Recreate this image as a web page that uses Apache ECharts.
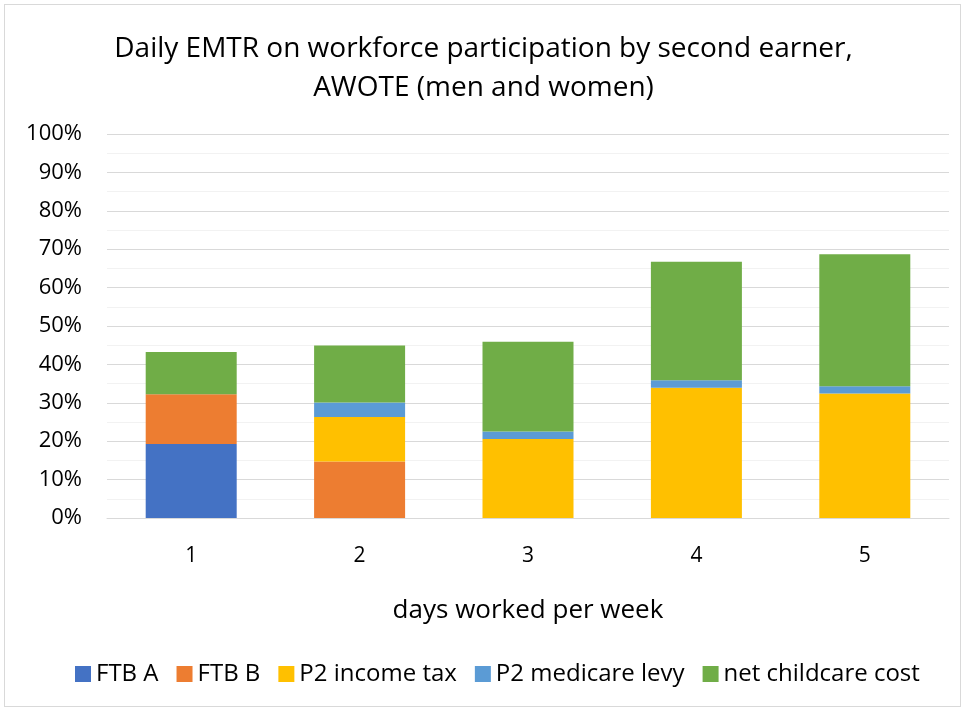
<!DOCTYPE html>
<html>
<head>
<meta charset="utf-8">
<script src="https://cdn.jsdelivr.net/npm/echarts@6/dist/echarts.min.js"></script>
<style>
html, body { margin: 0; padding: 0; background: #fff; }
#frame { position: absolute; left: 4px; top: 4px; width: 957px; height: 703px; border: 1px solid #d9d9d9; box-sizing: border-box; }
#emtr { position: absolute; left: 0; top: 0; width: 967px; height: 710px; }
</style>
</head>
<body>
<div id="frame"></div>
<div id="emtr"></div>
<script>
// Data (segment heights, %)
var days = ['1', '2', '3', '4', '5'];
var ftbA = [19.3, 0, 0, 0, 0];
var ftbB = [12.9, 14.7, 0, 0, 0];
var incomeTax = [0, 11.6, 20.6, 33.9, 32.4];
var medicareLevy = [0, 3.8, 1.9, 2.0, 1.9];
var childcareCost = [11.0, 14.8, 23.4, 30.8, 34.4];
var yTicks = [0, 10, 20, 30, 40, 50, 60, 70, 80, 90, 100];

var font = '"Open Sans", "Noto Sans", Arial, sans-serif';

// Build one stacked bar series
var makeSeries = function(name, values, colour) {
    return {
        name: name,
        type: 'bar',
        stack: 'emtr',
        barWidth: 91,
        itemStyle: { color: colour },
        data: values
    };
};

var chart = echarts.init(document.getElementById('emtr'));

chart.setOption({
    animation: false,
    textStyle: { fontFamily: font, color: '#000' },

    // Title
    title: {
        text: 'Daily EMTR on workforce participation by second earner,\nAWOTE (men and women)',
        left: 'center',
        top: 25,
        textStyle: {
            fontFamily: font,
            fontSize: 28,
            fontWeight: 'normal',
            lineHeight: 39,
            color: '#000'
        }
    },

    // Legend
    legend: {
        bottom: 19,
        left: 70,
        itemWidth: 16,
        itemHeight: 16,
        itemGap: 18,
        icon: 'rect',
        textStyle: { fontFamily: font, fontSize: 24, color: '#000' }
    },

    grid: {
        left: 107,
        right: 18,
        top: 134,
        bottom: 192
    },

    xAxis: {
        type: 'category',
        data: days,
        name: 'days worked per week',
        nameLocation: 'middle',
        nameGap: 80,
        nameTextStyle: { fontFamily: font, fontSize: 26, color: '#000' },
        axisTick: { show: false },
        axisLine: { lineStyle: { color: '#d9d9d9', width: 1 } },
        axisLabel: { fontFamily: font, fontSize: 21, color: '#000', margin: 28 }
    },

    yAxis: {
        type: 'value',
        min: yTicks[0],
        max: yTicks[yTicks.length - 1],
        interval: 10,
        axisLine: { show: false },
        axisTick: { show: false },
        axisLabel: {
            fontFamily: font,
            fontSize: 22,
            color: '#000',
            margin: 25,
            formatter: '{value}%'
        },
        splitLine: { lineStyle: { color: '#d9d9d9', width: 1 } },
        minorTick: { show: false, splitNumber: 2 },
        minorSplitLine: { show: true, lineStyle: { color: '#f2f2f2', width: 1 } }
    },

    series: [
        makeSeries('FTB A', ftbA, '#4472c4'),
        makeSeries('FTB B', ftbB, '#ed7d31'),
        makeSeries('P2 income tax', incomeTax, '#ffc000'),
        makeSeries('P2 medicare levy', medicareLevy, '#5b9bd5'),
        makeSeries('net childcare cost', childcareCost, '#70ad47')
    ]
});
</script>
</body>
</html>
